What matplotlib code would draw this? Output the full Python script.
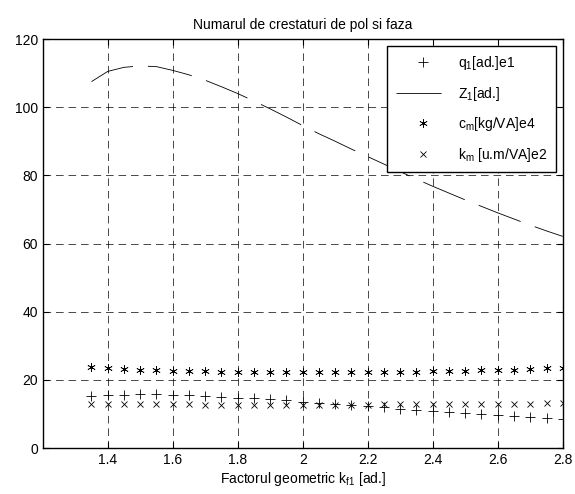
import matplotlib
matplotlib.use("Agg")
import matplotlib.pyplot as plt

plt.rcParams["font.family"] = ["Liberation Sans", "DejaVu Sans"]
plt.rcParams["mathtext.fontset"] = "custom"
plt.rcParams["mathtext.rm"] = "Liberation Sans"
plt.rcParams["mathtext.it"] = "Liberation Sans"

# geometric factor k_f1
kf = [1.35, 1.40, 1.45, 1.50, 1.55, 1.60, 1.65, 1.70, 1.75, 1.80,
      1.85, 1.90, 1.95, 2.00, 2.05, 2.10, 2.15, 2.20, 2.25, 2.30,
      2.35, 2.40, 2.45, 2.50, 2.55, 2.60, 2.65, 2.70, 2.75, 2.80]

q1 = [15.2, 15.5, 15.7, 15.8, 15.8, 15.6, 15.5, 15.3, 15.0, 14.8,
      14.6, 14.3, 14.0, 13.6, 13.2, 12.9, 12.6, 12.2, 11.9, 11.6,
      11.3, 11.0, 10.6, 10.3, 10.0, 9.8, 9.5, 9.2, 8.9, 8.6]

z1 = [107.5, 110.5, 111.7, 112.1, 111.9, 110.8, 109.5, 107.9, 106.0, 104.0,
      101.8, 99.5, 97.1, 94.6, 92.2, 90.0, 87.7, 85.5, 83.3, 81.1,
      78.9, 76.8, 74.8, 72.8, 70.9, 69.0, 67.2, 65.4, 63.7, 62.1]

cm = [23.9, 23.5, 23.2, 23.0, 22.8, 22.7, 22.6, 22.5, 22.4, 22.3,
      22.3, 22.2, 22.2, 22.2, 22.2, 22.2, 22.2, 22.3, 22.3, 22.4,
      22.4, 22.5, 22.6, 22.7, 22.8, 22.9, 23.0, 23.2, 23.4, 23.6]

km = [12.9, 12.9, 12.8, 12.8, 12.8, 12.8, 12.8, 12.7, 12.7, 12.7,
      12.7, 12.7, 12.7, 12.7, 12.7, 12.7, 12.7, 12.7, 12.8, 12.8,
      12.8, 12.8, 12.9, 12.9, 12.9, 13.0, 13.0, 13.0, 13.1, 13.1]

xticks = [1.4, 1.6, 1.8, 2.0, 2.2, 2.4, 2.6, 2.8]
xticklabels = ["1.4", "1.6", "1.8", "2", "2.2", "2.4", "2.6", "2.8"]
yticks = [0, 20, 40, 60, 80, 100, 120]

fig = plt.figure(figsize=(5.75, 4.94), dpi=100)
ax = fig.add_axes([0.0743, 0.093, 0.9044, 0.828])

ax.plot(kf, q1, linestyle="none", marker="+", markersize=7, mew=0.6,
        color="black", label="q$_1$[ad.]e1")
ax.plot(kf, z1, linestyle=(0, (54, 18)), lw=0.6, color="black",
        label="Z$_1$[ad.]")
ax.plot(kf, cm, linestyle="none", marker=(6, 2, 0), markersize=6, mew=0.5,
        color="black", label="c$_m$[kg/VA]e4")
ax.plot(kf, km, linestyle="none", marker="x", markersize=4, mew=0.6,
        color="black", label="k$_m$ [u.m/VA]e2")

ax.set_xlim(1.2, 2.8)
ax.set_ylim(0, 120)
ax.set_xticks(xticks)
ax.set_xticklabels(xticklabels)
ax.set_yticks(yticks)
ax.tick_params(direction="in", length=4, width=0.8, top=True, right=True,
               labelsize=10, colors="black")
for sp in ax.spines.values():
    sp.set_linewidth(1.0)

ax.grid(True, color="black", linestyle=(0, (11, 7)), lw=0.5)

ax.set_title("Numarul de crestaturi de pol si faza", fontsize=10, pad=7)
ax.set_xlabel("Factorul geometric k$_{f1}$ [ad.]", fontsize=10, labelpad=2)

leg = ax.legend(loc="upper right", fontsize=10, frameon=True, fancybox=False,
                framealpha=1, edgecolor="black", handlelength=4.0,
                borderaxespad=0.5, labelspacing=0.9, handletextpad=0.5,
                borderpad=0.6)
leg.get_frame().set_linewidth(1.0)

fig.savefig("out.png", dpi=100)
